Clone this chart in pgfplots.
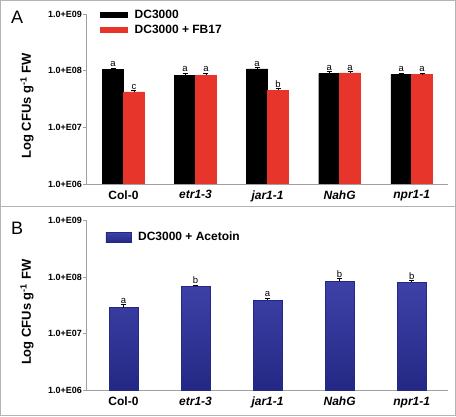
\documentclass[border=0pt]{standalone}
\usepackage{pgfplots}
\pgfplotsset{compat=1.18}
\usepackage{fontspec}
\setmainfont{Liberation Sans}
\definecolor{barred}{RGB}{232,53,43}
\definecolor{bartop}{RGB}{62,66,168}
\definecolor{barbot}{RGB}{36,40,132}
\definecolor{axgray}{RGB}{160,160,160}
\begin{document}
\begin{tikzpicture}[x=1pt,y=1pt]
\useasboundingbox (0,0) rectangle (456,416);
\draw[axgray!80, line width=1pt] (0.5,0.5) rectangle (455.5,415.5);
\draw[axgray!80, line width=1pt] (0,209.3) -- (456,209.3);
\node[anchor=base west, inner sep=0pt, font=\fontsize{18}{18}\selectfont] at (11,392) {A};
\node[anchor=base west, inner sep=0pt, font=\fontsize{18}{18}\selectfont] at (11,182) {B};
% Panel A
\begin{axis}[
  scale only axis,
  anchor=south west,
  at={(86pt,232pt)},
  width=361.7pt, height=170pt,
  ymode=log, log origin=infty,
  ymin=1e6, ymax=1e9,
  xmin=-0.52, xmax=4.5,
  axis lines*=left,
  axis line style={axgray, line width=0.8pt},
  ytick={1e6,1e7,1e8,1e9},
  yticklabels={1.0+E06,1.0+E07,1.0+E08,1.0+E09},
  yminorticks=false,
  tick align=outside,
  major tick length=3pt,
  ytick style={axgray, line width=0.8pt},
  yticklabel style={font=\bfseries\fontsize{9}{9}\selectfont, inner sep=1pt},
  xtick={0,1,2,3,4},
  xticklabels={Col-0,\textit{etr1-3},\textit{jar1-1},\textit{NahG},\textit{npr1-1}},
  xtick style={draw=none},
  xticklabel style={font=\bfseries\fontsize{12}{12}\selectfont},
  ylabel={Log CFUs g\textsuperscript{-1} FW},
  ylabel style={font=\bfseries\fontsize{13}{13}\selectfont, at={(axis description cs:-0.163,0.46)}, anchor=center},
  ybar,
  legend cell align=left,
  legend style={draw=none, fill=none, font=\bfseries\fontsize{12}{12}\selectfont, row sep=1pt, inner sep=0pt,
    at={(axis description cs:0.039,1.035)}, anchor=north west},
  legend image code/.code={\fill[#1] (0pt,-2.5pt) rectangle (27pt,2.5pt); \path (32pt,0pt);},
  nodes near coords style={font=\fontsize{9.5}{9.5}\selectfont, inner sep=1pt, anchor=south},
]
\addplot[fill=black, draw=black, bar width=0.29, bar shift=-0.145,
  error bars/.cd, y dir=plus, y explicit, error bar style={black, line width=0.6pt}, error mark options={rotate=90, black, mark size=2.5pt, line width=0.6pt}]
  coordinates {(0,1.04e8) +- (0,0.08e8) (1,8.26e7) +- (0,0.84e7) (2,1.07e8) +- (0,0.07e8) (3,8.85e7) +- (0,0.75e7) (4,8.5e7) +- (0,0.6e7)};
\addplot[fill=barred, draw=barred, bar width=0.29, bar shift=0.145,
  error bars/.cd, y dir=plus, y explicit, error bar style={black, line width=0.6pt}, error mark options={rotate=90, black, mark size=2.5pt, line width=0.6pt}]
  coordinates {(0,4.21e7) +- (0,0.23e7) (1,8.26e7) +- (0,0.84e7) (2,4.5e7) +- (0,0.32e7) (3,9.1e7) +- (0,0.62e7) (4,8.5e7) +- (0,0.6e7)};
\addplot[draw=none, fill=none, bar width=0.29, bar shift=-0.145, nodes near coords, point meta=explicit symbolic, forget plot]
  coordinates {(0,1.12e8) [a] (1,9.1e7) [a] (2,1.14e8) [a] (3,9.6e7) [a] (4,9.1e7) [a]};
\addplot[draw=none, fill=none, bar width=0.29, bar shift=0.145, nodes near coords, point meta=explicit symbolic, forget plot]
  coordinates {(0,4.44e7) [c] (1,9.1e7) [a] (2,4.82e7) [b] (3,9.72e7) [a] (4,9.1e7) [a]};
\legend{DC3000, DC3000 + FB17}
\end{axis}
% Panel B
\begin{axis}[
  scale only axis,
  anchor=south west,
  at={(86pt,25.3pt)},
  width=361.7pt, height=170.4pt,
  ymode=log, log origin=infty,
  ymin=1e6, ymax=1e9,
  xmin=-0.52, xmax=4.5,
  axis lines*=left,
  axis line style={axgray, line width=0.8pt},
  ytick={1e6,1e7,1e8,1e9},
  yticklabels={1.0+E06,1.0+E07,1.0+E08,1.0+E09},
  yminorticks=false,
  tick align=outside,
  major tick length=3pt,
  ytick style={axgray, line width=0.8pt},
  yticklabel style={font=\bfseries\fontsize{9}{9}\selectfont, inner sep=1pt},
  xtick={0,1,2,3,4},
  xticklabels={Col-0,\textit{etr1-3},\textit{jar1-1},\textit{NahG},\textit{npr1-1}},
  xtick style={draw=none},
  xticklabel style={font=\bfseries\fontsize{12}{12}\selectfont},
  ylabel={Log CFUs g\textsuperscript{-1} FW},
  ylabel style={font=\bfseries\fontsize{13}{13}\selectfont, at={(axis description cs:-0.163,0.46)}, anchor=center},
  ybar,
  legend cell align=left,
  legend style={draw=none, fill=none, font=\bfseries\fontsize{12}{12}\selectfont, inner sep=0pt,
    at={(axis description cs:0.054,0.90)}, anchor=west},
  legend image code/.code={\fill[#1] (0pt,-5pt) rectangle (25pt,5pt); \path (30pt,0pt);},
  nodes near coords style={font=\fontsize{9.5}{9.5}\selectfont, inner sep=1pt, anchor=south},
]
\addplot[top color=bartop, bottom color=barbot, draw=barbot, bar width=0.40, bar shift=0,
  error bars/.cd, y dir=plus, y explicit, error bar style={black, line width=0.6pt}, error mark options={rotate=90, black, mark size=2.5pt, line width=0.6pt}]
  coordinates {(0,2.9e7) +- (0,0.41e7) (1,6.87e7) +- (0,0.36e7) (2,3.89e7) +- (0,0.39e7) (3,8.5e7) +- (0,1.0e7) (4,8.07e7) +- (0,0.68e7)};
\addplot[draw=none, fill=none, bar width=0.40, bar shift=0, nodes near coords, point meta=explicit symbolic, forget plot]
  coordinates {(0,3.31e7) [a] (1,7.23e7) [b] (2,4.28e7) [a] (3,9.5e7) [b] (4,8.75e7) [b]};
\legend{DC3000 + Acetoin}
\end{axis}
\end{tikzpicture}
\end{document}
